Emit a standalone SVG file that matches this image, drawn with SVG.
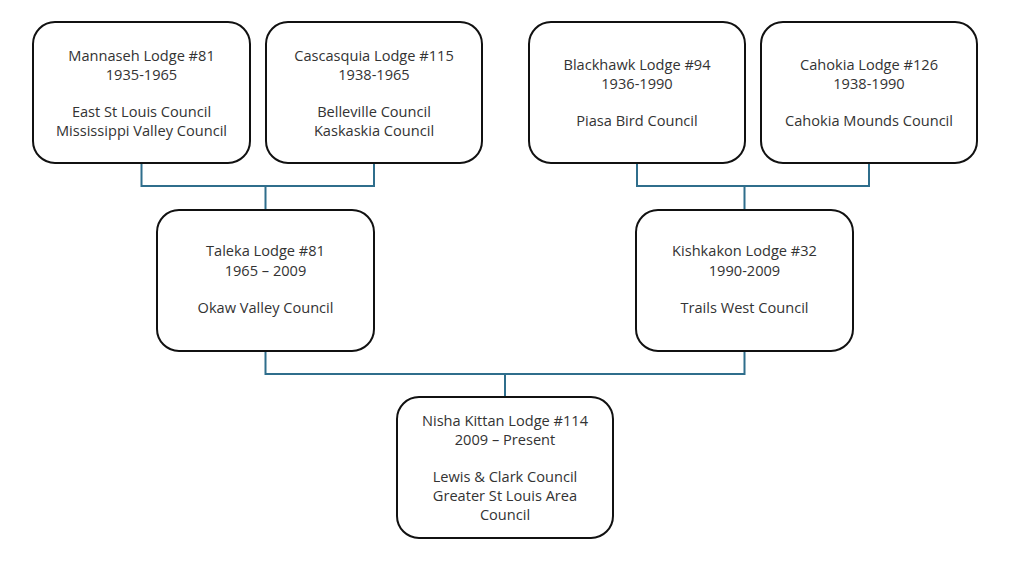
<svg xmlns="http://www.w3.org/2000/svg" width="1024" height="576" viewBox="0 0 1024 576">
<style>
.box{fill:#fff;stroke:#111;stroke-width:2}
.t{font-family:"Open Sans","Liberation Sans",sans-serif;font-size:14.6px;fill:#333;text-anchor:middle}
.c{fill:none;stroke:#2f6e8c;stroke-width:2}
</style>
<rect width="1024" height="576" fill="#fff"/>
<g id="connectors">
<path class="c" d="M141.5 163V186H374V163M265.5 186V210"/>
<path class="c" d="M637 163V186H869V163M744.5 186V210"/>
<path class="c" d="M265.5 351V374H744.5V351M505 374V397"/>
</g>
<g id="mannaseh">
<rect class="box" x="33" y="22" width="217" height="141" rx="22"/>
<text class="t" x="141.5" y="61">Mannaseh Lodge #81</text>
<text class="t" x="141.5" y="80">1935-1965</text>
<text class="t" x="141.5" y="117">East St Louis Council</text>
<text class="t" x="141.5" y="136">Mississippi Valley Council</text>
</g>
<g id="cascasquia">
<rect class="box" x="266" y="22" width="216" height="141" rx="22"/>
<text class="t" x="374" y="61">Cascasquia Lodge #115</text>
<text class="t" x="374" y="80">1938-1965</text>
<text class="t" x="374" y="117">Belleville Council</text>
<text class="t" x="374" y="136">Kaskaskia Council</text>
</g>
<g id="blackhawk">
<rect class="box" x="529" y="22" width="216" height="141" rx="22"/>
<text class="t" x="637" y="70">Blackhawk Lodge #94</text>
<text class="t" x="637" y="89">1936-1990</text>
<text class="t" x="637" y="126">Piasa Bird Council</text>
</g>
<g id="cahokia">
<rect class="box" x="761" y="22" width="216" height="141" rx="22"/>
<text class="t" x="869" y="70">Cahokia Lodge #126</text>
<text class="t" x="869" y="89">1938-1990</text>
<text class="t" x="869" y="126">Cahokia Mounds Council</text>
</g>
<g id="taleka">
<rect class="box" x="157" y="210" width="217" height="141" rx="22"/>
<text class="t" x="265.5" y="256">Taleka Lodge #81</text>
<text class="t" x="265.5" y="276">1965 – 2009</text>
<text class="t" x="265.5" y="313">Okaw Valley Council</text>
</g>
<g id="kishkakon">
<rect class="box" x="636" y="210" width="217" height="141" rx="22"/>
<text class="t" x="744.5" y="256">Kishkakon Lodge #32</text>
<text class="t" x="744.5" y="276">1990-2009</text>
<text class="t" x="744.5" y="313">Trails West Council</text>
</g>
<g id="nishakittan">
<rect class="box" x="397" y="397" width="216" height="141" rx="22"/>
<text class="t" x="505" y="426">Nisha Kittan Lodge #114</text>
<text class="t" x="505" y="445">2009 – Present</text>
<text class="t" x="505" y="482">Lewis &amp; Clark Council</text>
<text class="t" x="505" y="501">Greater St Louis Area</text>
<text class="t" x="505" y="520">Council</text>
</g>
</svg>
